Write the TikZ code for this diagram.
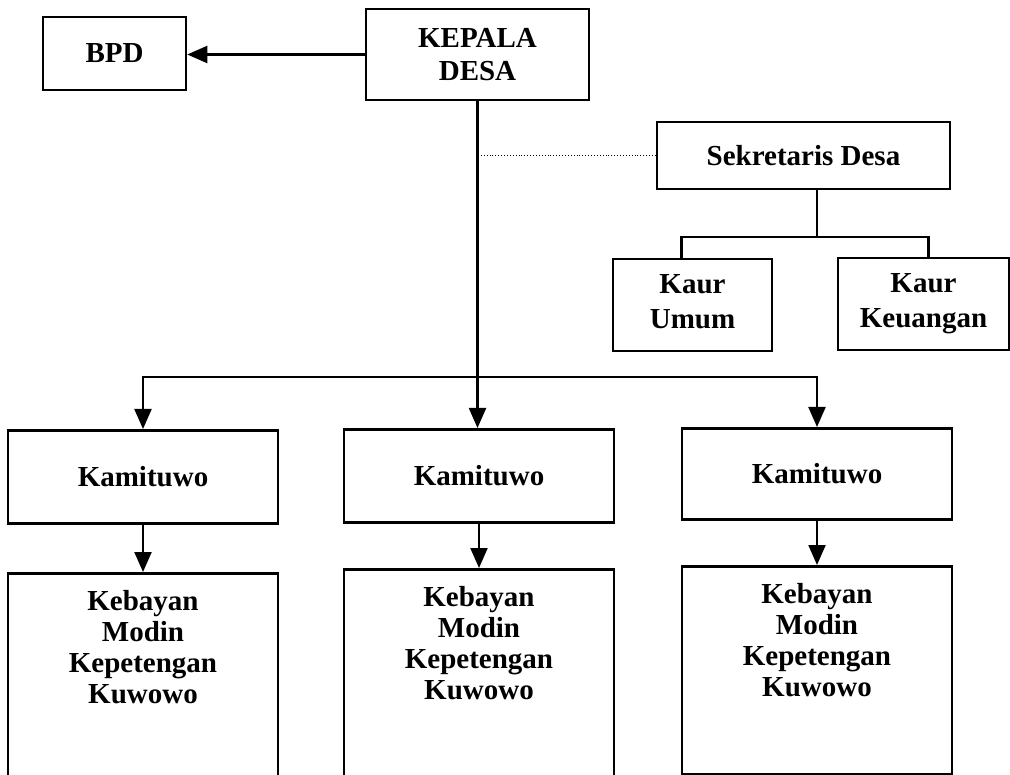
\documentclass[tikz,border=0pt]{standalone}
\usepackage{fontspec}
\setmainfont{Liberation Serif}
\usepackage{tikz}
\usetikzlibrary{arrows.meta,positioning}

\tikzset{
  unitbox/.style={draw,line width=2.6pt,inner sep=0pt,align=center},
  arrow/.style={line width=2.2pt,-{Triangle[length=20pt,width=17pt]}},
  link/.style={line width=2.2pt}
}

\begin{document}
\begin{tikzpicture}[x=1pt,y=-1pt,font=\bfseries\fontsize{29}{33}\selectfont]
  \useasboundingbox (0,0) rectangle (1010,775);
  % head of the village and the council
  \node[unitbox,minimum width=223pt,minimum height=91pt] (kepala) at (477.5,54.5) {KEPALA\\DESA};
  \node[unitbox,minimum width=143pt,minimum height=73pt] (bpd) at (114.5,53.5) {BPD};
  \draw[arrow] (kepala.west) -- (kepala.west -| bpd.east);

  % secretary with the two kaur below
  \node[unitbox,minimum width=293pt,minimum height=67pt] (sekdes) at (803.5,155.5) {Sekretaris Desa};
  \node[unitbox,minimum width=159pt,minimum height=92pt,font=\bfseries\fontsize{29}{35}\selectfont] (umum) at (692.5,305) {Kaur\\Umum\vphantom{g}};
  \node[unitbox,minimum width=171pt,minimum height=92pt,font=\bfseries\fontsize{29}{35}\selectfont] (keuangan) at (923.5,304) {Kaur\\Keuangan};
  \draw[line width=0.9pt,dotted] (sekdes.west) -- (sekdes.west -| kepala.south);
  \coordinate (sekfork) at (817,237);
  \draw[link] (sekdes.south -| sekfork) -- (sekfork);
  \draw[link] ([xshift=-11pt]umum.north) |- (sekfork) -| ([xshift=5pt]keuangan.north);

  % the three hamlets: kamituwo and their staff
  \foreach \i/\cx/\ky/\kh/\sy/\sh in {1/143/429/93/572/212,2/479/428/93/568/216,3/817/427/91/565/208} {
    \node[unitbox,anchor=north,minimum width=270pt,minimum height=\kh pt] (kam\i) at (\cx,\ky) {Kamituwo};
    \node[unitbox,anchor=north,minimum width=270pt,minimum height=\sh pt] (staff\i) at (\cx,\sy) {};
    \node[anchor=north,align=center,inner sep=0pt,font=\bfseries\fontsize{29}{31}\selectfont] (names\i) at ([yshift=-18pt]staff\i.north) {Kebayan\\Modin\\Kepetengan\\Kuwowo};
    \draw[arrow] (kam\i) -- (staff\i);
  }
  \coordinate (fork) at (477.5,377);
  \draw[arrow] (kepala.south) -- (kepala.south |- kam2.north);
  \draw[arrow] (fork) -| (kam1.north);
  \draw[arrow] (fork) -| (kam3.north);
\end{tikzpicture}
\end{document}
